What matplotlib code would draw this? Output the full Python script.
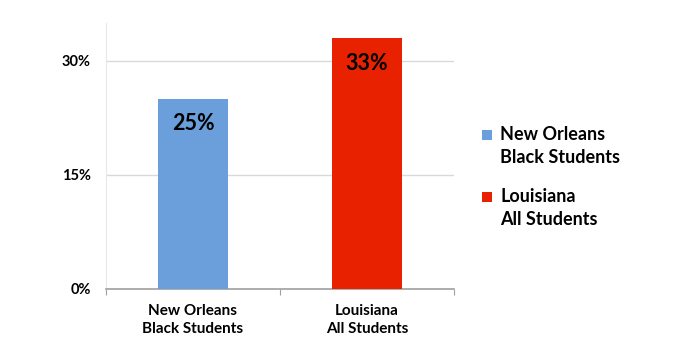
import matplotlib.pyplot as plt
from matplotlib.patches import Rectangle

categories = ["New Orleans\nBlack Students", "Louisiana\nAll Students"]
values = [25, 33]
colors = ["#6A9FDB", "#E82200"]
yticks = [0, 15, 30]

plt.rcParams['font.family'] = ['Lato', 'DejaVu Sans']

fig = plt.figure(figsize=(6.9, 3.49), dpi=100)
ax = fig.add_axes([106 / 690, 1 - 289 / 349, (454 - 106) / 690, (289 - 23) / 349])

x = range(len(categories))
bars = ax.bar(x, values, width=0.4, color=colors, zorder=3)
for b, v in zip(bars, values):
    ax.text(b.get_x() + b.get_width() / 2, v - 1.9, f"{v}%", ha="center", va="top",
            fontsize=15.5, fontweight="bold", color="black", zorder=4)

ax.set_xlim(-0.5, 1.5)
ax.set_ylim(0, 35)
ax.set_yticks(yticks)
ax.set_yticklabels([f"{t}%" for t in yticks], fontsize=10.5, fontweight="bold")
ax.yaxis.grid(True, color="#D9D9D9", linewidth=1, zorder=0)
ax.tick_params(axis="y", length=0, pad=11)

ax.set_xticks([-0.5, 0.5, 1.5])
ax.set_xticklabels([])
ax.set_xticks(list(x), minor=True)
ax.set_xticklabels(categories, minor=True, fontsize=11, fontweight="bold", linespacing=1.35)
ax.tick_params(axis="x", which="major", length=4, direction="out", color="#A0A0A0")
ax.tick_params(axis="x", which="minor", length=0, pad=11)

for s in ["top", "right"]:
    ax.spines[s].set_visible(False)
ax.spines["left"].set_color("#E8E8E8")
ax.spines["bottom"].set_color("#A0A0A0")
ax.spines["bottom"].set_linewidth(1.2)

# legend drawn by hand so the swatch sits beside the first line
for i, (lab, c) in enumerate(zip(categories, colors)):
    ytop = 126 + i * 62
    fig.add_artist(Rectangle((482 / 690, 1 - (ytop + 14) / 349), 10 / 690, 10 / 349,
                             transform=fig.transFigure, facecolor=c, edgecolor="none"))
    fig.text(500 / 690, 1 - ytop / 349, lab, ha="left", va="top", fontsize=13,
             fontweight="bold", linespacing=1.45)

fig.savefig("out.png", dpi=100)
